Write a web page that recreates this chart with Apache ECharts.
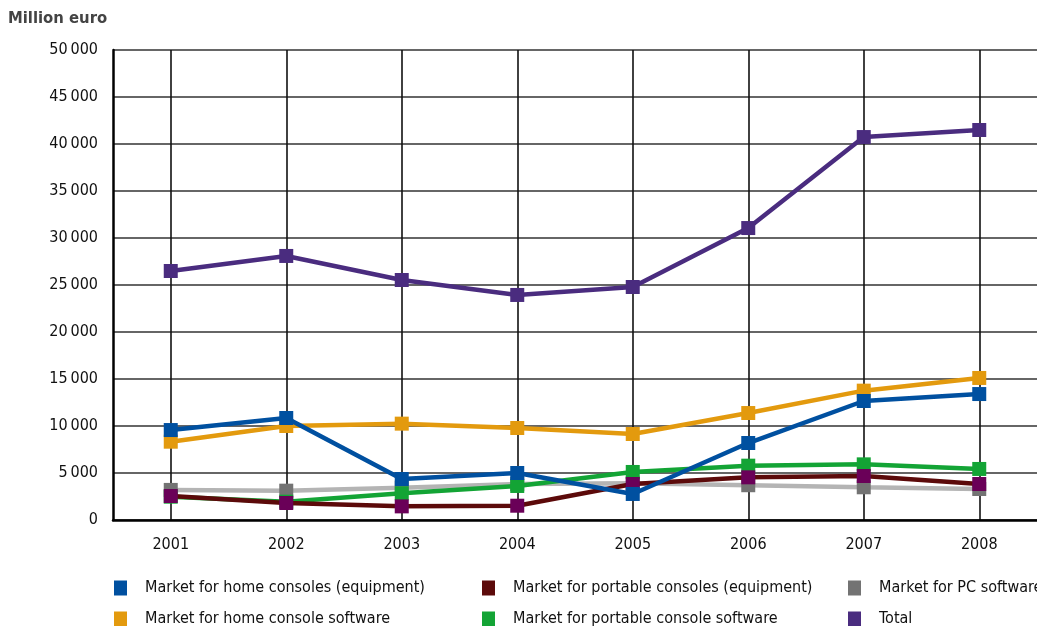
<!DOCTYPE html>
<html>
<head>
<meta charset="utf-8">
<script src="https://cdn.jsdelivr.net/npm/echarts@6/dist/echarts.min.js"></script>
<style>
  html, body { margin: 0; padding: 0; background: #fff; }
  #chart { width: 1037px; height: 626px; }
</style>
</head>
<body>
<div id="chart"></div>
<script>
// Video game market by segment, million euro
const years = ['2001', '2002', '2003', '2004', '2005', '2006', '2007', '2008'];
const yTicks = [0, 5000, 10000, 15000, 20000, 25000, 30000, 35000, 40000, 45000, 50000];

const homeConsolesEquipment = [9570, 10850, 4360, 5000, 2770, 8190, 12660, 13400];
const homeConsoleSoftware   = [8330, 10000, 10250, 9790, 9150, 11380, 13760, 15110];
const portableEquipment     = [2550, 1810, 1450, 1520, 3830, 4540, 4680, 3830];
const portableSoftware      = [2480, 1950, 2840, 3620, 5110, 5780, 5920, 5430];
const pcSoftware            = [3200, 3120, 3440, 3830, 3900, 3700, 3480, 3300];
const total                 = [26490, 28090, 25530, 23940, 24790, 31060, 40740, 41490];

const seriesNames = [
  'Market for home consoles (equipment)',
  'Market for portable consoles (equipment)',
  'Market for PC software',
  'Market for home console software',
  'Market for portable console software',
  'Total'
];

const FONT = '"DejaVu Sans Condensed", "DejaVu Sans", sans-serif';

function fmt(v) {
  return String(v).replace(/\B(?=(\d{3})+(?!\d))/g, '\u2009');
}

function lineSeries(name, data, lineColor, markerColor, z) {
  return {
    name: name,
    type: 'line',
    data: data,
    z: z,
    symbol: 'rect',
    symbolSize: 14,
    showAllSymbol: true,
    lineStyle: { color: lineColor, width: 4.5 },
    itemStyle: { color: markerColor },
    emphasis: { disabled: true },
    animation: false
  };
}

// one legend entry per component so the three columns line up
function legendItem(left, top, name, color) {
  return {
    orient: 'horizontal',
    left: left,
    top: top,
    padding: 0,
    itemWidth: 13,
    itemHeight: 15,
    icon: 'rect',
    selectedMode: false,
    data: [{ name: name, itemStyle: { color: color } }],
    textStyle: { fontFamily: FONT, fontSize: 16, color: '#111', padding: [0, 0, 0, 13] }
  };
}

const chart = echarts.init(document.getElementById('chart'), null, { renderer: 'canvas' });

chart.setOption({
  backgroundColor: '#fff',
  animation: false,
  graphic: [{
    type: 'text',
    left: 8,
    top: 10,
    style: { text: 'Million euro', fontFamily: FONT, fontSize: 16.5, fontWeight: 'bold', fill: '#444' }
  }],
  grid: { left: 113, right: -9, top: 50, bottom: 106, containLabel: false },
  xAxis: {
    type: 'category',
    data: years,
    boundaryGap: true,
    axisLine: { show: true, onZero: false, lineStyle: { color: '#000', width: 2.5 } },
    axisTick: { show: false, alignWithLabel: true },
    splitLine: { show: true, alignWithLabel: true, lineStyle: { color: '#111', width: 1.6 } },
    axisLabel: { margin: 17, fontFamily: FONT, fontSize: 16, color: '#111' }
  },
  yAxis: {
    type: 'value',
    min: yTicks[0],
    max: yTicks[yTicks.length - 1],
    interval: yTicks[1] - yTicks[0],
    axisLine: { show: true, lineStyle: { color: '#000', width: 2.5 } },
    axisTick: { show: false },
    splitLine: { show: true, lineStyle: { color: '#333', width: 1.6 } },
    axisLabel: { margin: 15, fontFamily: FONT, fontSize: 16, color: '#111', formatter: fmt }
  },
  legend: [
    legendItem(114, 580, seriesNames[0], '#0050a0'),
    legendItem(114, 611, seriesNames[3], '#e39a0e'),
    legendItem(482, 580, seriesNames[1], '#5c0a0a'),
    legendItem(482, 611, seriesNames[4], '#13a435'),
    legendItem(848, 580, seriesNames[2], '#737373'),
    legendItem(848, 611, seriesNames[5], '#4a2c7f')
  ],
  series: [
    lineSeries(seriesNames[2], pcSoftware, '#b4b4b4', '#737373', 2),
    lineSeries(seriesNames[4], portableSoftware, '#13a435', '#13a435', 3),
    lineSeries(seriesNames[1], portableEquipment, '#5c0a0a', '#6a0058', 4),
    lineSeries(seriesNames[3], homeConsoleSoftware, '#e39a0e', '#e39a0e', 5),
    lineSeries(seriesNames[0], homeConsolesEquipment, '#0050a0', '#0050a0', 6),
    lineSeries(seriesNames[5], total, '#4a2c7f', '#4a2c7f', 7)
  ]
});
</script>
</body>
</html>
